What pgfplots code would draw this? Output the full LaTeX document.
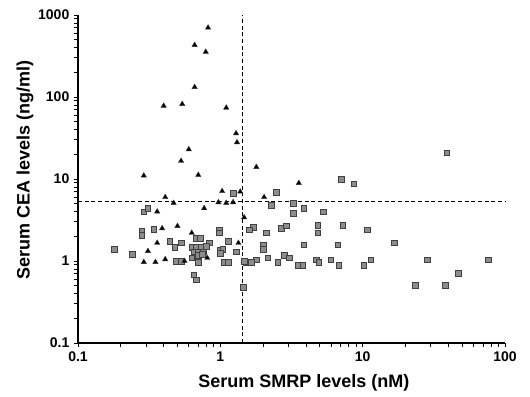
\documentclass[border=0pt]{standalone}
\usepackage{pgfplots}
\pgfplotsset{compat=1.18}
\usepackage{fontspec}
\setmainfont{Liberation Sans}
\begin{document}
\begin{tikzpicture}
\begin{axis}[name=ax,
  scale only axis, width=320.25pt, height=246pt,
  xmode=log, ymode=log,
  xmin=0.1, xmax=100, ymin=0.1, ymax=1000,
  axis lines*=left,
  axis line style={black, line width=0.8pt},
  xtick={0.1,1,10,100}, xticklabels={0.1,1,10,100},
  ytick={0.1,1,10,100,1000}, yticklabels={0.1,1,10,100,1000},
  minor tick num=0, minor xtick={}, minor ytick={},
  tick align=outside, major tick length=3pt,
  tick style={black, line width=0.6pt},
  tick label style={font=\bfseries\fontsize{10.5}{12}\selectfont},
  xlabel={Serum SMRP levels (nM)},
  ylabel={Serum CEA levels (ng/ml)},
  label style={font=\bfseries\fontsize{13.5}{16}\selectfont},
  xlabel style={at={(axis description cs:0.529,-0.122)}, anchor=center},
  ylabel style={at={(axis description cs:-0.124,0.527)}, anchor=center},
  clip=false,
]
% threshold lines
\addplot[black, densely dashed, line width=0.6pt] coordinates {(1.43,0.1) (1.43,1000)};
\addplot[black, densely dashed, line width=0.6pt] coordinates {(0.1,5.3) (100,5.3)};
% squares
\addplot[only marks, mark=square*, mark size=2.1pt, mark options={fill=black!45, draw=black!75, line width=0.4pt}] coordinates {
(1.23,6.7) (39,21) (7.1,10) (8.65,8.7) (2.46,6.9) (2.27,4.8) (3.24,5.1) (3.24,3.85) (3.86,4.4) (5.3,4.0)
(1.70,2.6) (1.60,2.4) (2.1,2.2) (2.67,2.5) (2.9,2.7) (4.84,2.75) (4.84,2.2) (7.25,2.75) (10.8,2.4)
(3.86,1.57) (6.7,1.57) (16.7,1.66) (2.0,1.57) (2.0,1.40) (1.79,1.03) (2.16,1.09) (2.54,0.97) (2.8,1.18)
(3.04,1.09) (3.5,0.89) (3.8,0.89) (4.7,1.03) (4.9,0.97) (5.97,1.03) (6.8,0.89) (10.2,0.89) (11.4,1.03)
(28.5,1.03) (76,1.03) (47,0.71) (23.5,0.51) (38,0.51) (1.45,0.48) (1.52,0.97) (1.65,0.97) (1.47,1.0)
(0.18,1.4) (0.24,1.2) (0.49,1.0) (0.53,1.0) (0.44,1.75) (0.48,1.48) (0.53,1.66) (0.34,2.45) (0.28,2.3)
(0.28,2.07) (0.29,4.0) (0.31,4.4) (0.68,1.9) (0.72,1.9) (0.84,1.66) (0.63,1.48) (0.68,1.48) (0.73,1.48)
(0.80,1.5) (0.65,1.29) (0.70,1.29) (0.76,1.30) (0.70,1.18) (0.75,1.2) (0.63,1.09) (0.70,0.97) (0.65,0.68)
(0.68,0.59) (0.98,2.4) (0.98,2.2) (1.14,1.75) (1.29,1.29) (1.0,1.36) (1.04,1.4) (1.07,0.97) (1.14,0.97) (1.0,1.25)
};
% triangles
\addplot[only marks, mark=triangle*, mark size=2.3pt, mark options={fill=black, draw=black!80, line width=0.3pt}] coordinates {
(0.82,700) (0.66,430) (0.79,355) (0.66,132) (0.40,78) (0.54,82) (1.10,74) (1.29,36) (1.31,28) (0.60,23)
(0.53,16.6) (0.70,11.2) (0.29,11) (1.79,14) (1.03,7.1) (1.38,7.0) (0.41,6.0) (2.03,6.0) (3.56,8.9)
(0.77,4.4) (0.97,5.2) (1.10,5.1) (1.23,5.2) (0.47,5.1) (1.47,3.4) (1.34,1.66) (0.36,4.0) (0.39,2.5)
(0.50,2.67) (0.36,1.66) (0.31,1.32) (0.29,0.97) (0.35,0.97) (0.41,1.05) (0.56,1.0) (0.63,2.2) (0.81,1.09)
};
\end{axis}
\pgfresetboundingbox
\path[use as bounding box] ([shift={(-58.5pt,-39.75pt)}]ax.south west) rectangle ([shift={(18.75pt,11.25pt)}]ax.north east);
\end{tikzpicture}
\end{document}
